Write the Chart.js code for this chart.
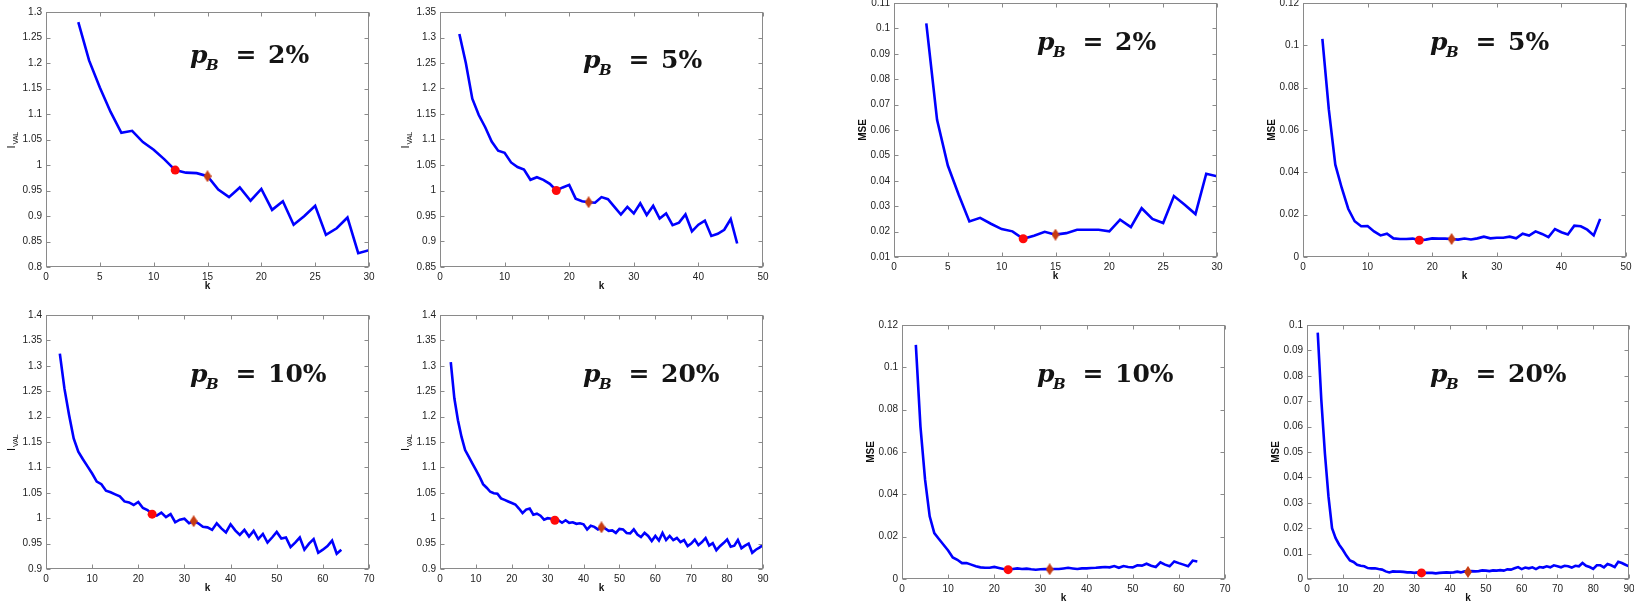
<!DOCTYPE html>
<html>
<head>
<meta charset="utf-8">
<script src="https://cdn.jsdelivr.net/npm/chart.js@4.4.0/dist/chart.umd.min.js"></script>
<style>
  html, body { margin: 0; padding: 0; background: #fff; overflow: hidden; }
  body { width: 1634px; height: 602px; position: relative; }
  canvas { position: absolute; }
</style>
</head>
<body>
<script>
// first k on every curve; each array below holds one value per k from here on
const K_START = 3;

// validation loss I_VAL per noise level p_B
const ivalP2 = [1.28, 1.205, 1.152, 1.104, 1.063, 1.067, 1.045, 1.03, 1.011, 0.99,
  0.985, 0.984, 0.978, 0.952, 0.937, 0.956, 0.93, 0.953, 0.912, 0.929,
  0.883, 0.9, 0.92, 0.863, 0.876, 0.897, 0.827, 0.833];
const ivalP5 = [1.307, 1.25, 1.18, 1.148, 1.124, 1.096, 1.078, 1.074, 1.055, 1.046,
  1.041, 1.021, 1.026, 1.021, 1.013, 1.0, 1.006, 1.011, 0.984, 0.979,
  0.977, 0.976, 0.987, 0.983, 0.968, 0.953, 0.968, 0.955, 0.975, 0.952,
  0.97, 0.945, 0.955, 0.932, 0.937, 0.953, 0.92, 0.933, 0.941, 0.911,
  0.915, 0.923, 0.944, 0.896];
const ivalP10 = [1.324, 1.255, 1.203, 1.157, 1.131, 1.116, 1.102, 1.088, 1.072, 1.067,
  1.054, 1.051, 1.047, 1.043, 1.033, 1.031, 1.026, 1.032, 1.02, 1.016,
  1.008, 1.005, 1.011, 1.002, 1.008, 0.992, 0.997, 0.999, 0.99, 0.994,
  0.99, 0.983, 0.982, 0.977, 0.99, 0.98, 0.972, 0.988, 0.976, 0.967,
  0.977, 0.964, 0.975, 0.959, 0.969, 0.952, 0.962, 0.973, 0.96, 0.962,
  0.943, 0.952, 0.962, 0.938, 0.95, 0.959, 0.932, 0.938, 0.945, 0.956,
  0.93, 0.938];
const ivalP20 = [1.307, 1.236, 1.193, 1.16, 1.134, 1.121, 1.108, 1.095, 1.082, 1.067,
  1.06, 1.052, 1.049, 1.048, 1.039, 1.036, 1.033, 1.03, 1.027, 1.019,
  1.01, 1.017, 1.019, 1.007, 1.009, 1.005, 0.997, 1.0, 0.999, 0.996,
  0.996, 0.991, 0.996, 0.991, 0.992, 0.989, 0.99, 0.988, 0.978, 0.985,
  0.983, 0.978, 0.982, 0.98, 0.975, 0.976, 0.971, 0.979, 0.978, 0.971,
  0.97, 0.978, 0.968, 0.963, 0.971, 0.965, 0.955, 0.965, 0.956, 0.971,
  0.957, 0.965, 0.957, 0.961, 0.953, 0.957, 0.945, 0.95, 0.958, 0.947,
  0.953, 0.961, 0.946, 0.951, 0.937, 0.945, 0.951, 0.958, 0.944, 0.946,
  0.957, 0.941, 0.946, 0.95, 0.932, 0.938, 0.942, 0.947];

// mean squared error per noise level p_B
const mseP2 = [0.102, 0.064, 0.046, 0.0346, 0.024, 0.0254, 0.0231, 0.021, 0.0201, 0.0172,
  0.0184, 0.0199, 0.0188, 0.0194, 0.0207, 0.0207, 0.0207, 0.0201, 0.0247, 0.0218,
  0.0292, 0.025, 0.0234, 0.034, 0.0306, 0.0269, 0.0428, 0.0418];
const mseP5 = [0.103, 0.0696, 0.0436, 0.0326, 0.0228, 0.0169, 0.0145, 0.0146, 0.0121, 0.0102,
  0.011, 0.0088, 0.0085, 0.0085, 0.0087, 0.0079, 0.0082, 0.0088, 0.0087, 0.0087,
  0.0085, 0.0082, 0.0087, 0.0083, 0.0088, 0.0096, 0.0088, 0.0091, 0.0091, 0.0096,
  0.0088, 0.011, 0.0101, 0.0121, 0.0109, 0.0094, 0.0132, 0.0117, 0.0106, 0.0148,
  0.0145, 0.0129, 0.0102, 0.018];
const mseP10 = [0.1106, 0.072, 0.0469, 0.0296, 0.0217, 0.0189, 0.0162, 0.0135, 0.0102, 0.0091,
  0.0075, 0.0075, 0.0068, 0.006, 0.0055, 0.0053, 0.0053, 0.0057, 0.0052, 0.0047,
  0.0044, 0.0047, 0.005, 0.0047, 0.0049, 0.0046, 0.0044, 0.0046, 0.0047, 0.0046,
  0.0047, 0.0047, 0.005, 0.0053, 0.005, 0.0047, 0.005, 0.005, 0.0052, 0.0053,
  0.0055, 0.0057, 0.0055, 0.0061, 0.0053, 0.0061, 0.0057, 0.0055, 0.0065, 0.0063,
  0.0072, 0.0063, 0.0057, 0.0079, 0.0068, 0.006, 0.0083, 0.0075, 0.0068, 0.006,
  0.0087, 0.0083];
const mseP20 = [0.097, 0.0705, 0.0495, 0.0325, 0.02, 0.0161, 0.0135, 0.0115, 0.0092, 0.0073,
  0.0067, 0.0056, 0.0052, 0.005, 0.0043, 0.0042, 0.0042, 0.0039, 0.0037, 0.003,
  0.0026, 0.003, 0.0029, 0.0029, 0.0028, 0.0026, 0.0026, 0.0024, 0.0026, 0.0024,
  0.0024, 0.0024, 0.0024, 0.0022, 0.0024, 0.0025, 0.0026, 0.0025, 0.0026, 0.0029,
  0.0026, 0.003, 0.0028, 0.0031, 0.003, 0.0031, 0.0034, 0.0033, 0.0031, 0.0034,
  0.0033, 0.0035, 0.0033, 0.0038, 0.0037, 0.0042, 0.0047, 0.0039, 0.0045, 0.0042,
  0.0046, 0.0039, 0.0047, 0.0045, 0.005, 0.0046, 0.0054, 0.005, 0.0046, 0.0052,
  0.005, 0.0045, 0.0052, 0.005, 0.0063, 0.0052, 0.0047, 0.004, 0.0054, 0.0054,
  0.0046, 0.0059, 0.0054, 0.0047, 0.0068, 0.0063, 0.0056, 0.005];

// per noise level: label, selected k (circle), alternative k (diamond), x axis range
const noiseLabels = ["2%", "5%", "10%", "20%"];
const circleK = [12, 18, 23, 32];
const diamondK = [15, 23, 32, 45];
const xMax = [30, 50, 70, 90];
const xStep = [5, 10, 10, 10];

// y axis [min, max, step]
const ivalAxes = [[0.8, 1.3, 0.05], [0.85, 1.35, 0.05], [0.9, 1.4, 0.05], [0.9, 1.4, 0.05]];
const mseAxes = [[0.01, 0.11, 0.01], [0, 0.12, 0.02], [0, 0.12, 0.02], [0, 0.1, 0.01]];

// plot boxes on the page [left, top, right, bottom] and p_B label offsets
const ivalBoxes = [[46, 12, 369, 267], [440, 12, 763, 267], [46, 315, 369, 569], [440, 315, 763, 569]];
const mseBoxes = [[894, 3, 1217, 257], [1303, 3, 1626, 257], [902, 325, 1225, 579], [1307, 325, 1629, 579]];
const ivalTagAt = [[144, 51], [143, 56], [144, 67], [143, 67]];
const mseTagAt = [[143, 47], [127, 47], [135, 57], [123, 57]];

const YW = 50, XH = 34, PT = 10, PR = 14;

Chart.defaults.font.family = "'Liberation Sans', Arial, sans-serif";
Chart.defaults.font.size = 10;
Chart.defaults.color = "#222";

// diamond marker, a bit taller than wide
const diamond = document.createElement("canvas");
diamond.width = 8;
diamond.height = 12;
(function() {
  const g = diamond.getContext("2d");
  g.fillStyle = "#c83c12";
  g.beginPath();
  g.moveTo(4, 0);
  g.lineTo(8, 6);
  g.lineTo(4, 12);
  g.lineTo(0, 6);
  g.closePath();
  g.fill();
})();

// gray box with short inward ticks on all four sides
const framePlugin = {
  id: "frame",
  afterDraw(chart) {
    const { ctx, chartArea: a, scales } = chart;
    const L = Math.round(a.left) + 0.5, R = Math.round(a.right) - 0.5;
    const T = Math.round(a.top) + 0.5, B = Math.round(a.bottom) - 0.5;
    ctx.save();
    ctx.strokeStyle = "#8a8a8a";
    ctx.lineWidth = 1;
    ctx.strokeRect(L, T, R - L, B - T);
    ctx.beginPath();
    scales.x.ticks.forEach(t => {
      const x = Math.round(scales.x.getPixelForValue(t.value)) + 0.5;
      ctx.moveTo(x, B); ctx.lineTo(x, B - 4);
      ctx.moveTo(x, T); ctx.lineTo(x, T + 4);
    });
    scales.y.ticks.forEach(t => {
      const y = Math.round(scales.y.getPixelForValue(t.value)) + 0.5;
      ctx.moveTo(L, y); ctx.lineTo(L + 4, y);
      ctx.moveTo(R, y); ctx.lineTo(R - 4, y);
    });
    ctx.stroke();
    ctx.restore();
  }
};

// axis names and the p_B tag
const labelPlugin = {
  id: "labels",
  afterDraw(chart, args, opts) {
    const { ctx, chartArea: a } = chart;
    ctx.save();
    ctx.fillStyle = "#111";
    ctx.textAlign = "center";
    ctx.textBaseline = "middle";
    ctx.font = "bold 10px 'Liberation Sans', Arial, sans-serif";
    ctx.fillText("k", (a.left + a.right) / 2, a.bottom + 19);

    ctx.translate(a.left - opts.yOffset, (a.top + a.bottom) / 2);
    ctx.rotate(-Math.PI / 2);
    if (opts.yName === "MSE") {
      ctx.fillText("MSE", 0, 0);
    } else {
      ctx.textAlign = "left";
      ctx.font = "11px 'Liberation Sans', Arial, sans-serif";
      ctx.fillText("I", -9, 0);
      ctx.font = "7px 'Liberation Sans', Arial, sans-serif";
      ctx.fillText("VAL", -5, 4);
    }
    ctx.restore();

    const x0 = a.left + opts.tag[0], y0 = a.top + opts.tag[1];
    ctx.save();
    ctx.fillStyle = "#141414";
    ctx.textBaseline = "alphabetic";
    ctx.font = "italic bold 25px 'DejaVu Serif', serif";
    ctx.fillText("p", x0, y0);
    ctx.font = "italic bold 15px 'DejaVu Serif', serif";
    ctx.fillText("B", x0 + 16, y0 + 7);
    ctx.font = "bold 25px 'DejaVu Serif', serif";
    ctx.textAlign = "center";
    ctx.fillText("=", x0 + 56, y0);
    ctx.textAlign = "left";
    ctx.fillText(opts.value, x0 + 78, y0);
    ctx.restore();
  }
};

function fmt(v) {
  return String(Number(v.toFixed(4)));
}

function drawPanel(values, box, axis, i, yName, tag, yOffset) {
  const [L, T, R, B] = box;
  const w = R - L + YW + PR, h = B - T + PT + XH;
  const canvas = document.createElement("canvas");
  canvas.width = w;
  canvas.height = h;
  canvas.style.left = (L - YW) + "px";
  canvas.style.top = (T - PT) + "px";
  canvas.style.width = w + "px";
  canvas.style.height = h + "px";
  document.body.appendChild(canvas);

  const curve = values.map((v, j) => ({ x: K_START + j, y: v }));
  const pick = k => [{ x: k, y: values[k - K_START] }];

  new Chart(canvas, {
    type: "line",
    data: {
      datasets: [
        {
          data: curve,
          borderColor: "#0000ff",
          borderWidth: 2.6,
          pointRadius: 0,
          tension: 0,
          order: 2
        },
        {
          data: pick(circleK[i]),
          showLine: false,
          pointStyle: "circle",
          pointRadius: 4.5,
          pointBackgroundColor: "#ff0a0a",
          pointBorderWidth: 0,
          order: 1
        },
        {
          data: pick(diamondK[i]),
          showLine: false,
          pointStyle: diamond,
          pointRadius: 5,
          order: 0
        }
      ]
    },
    options: {
      responsive: false,
      animation: false,
      events: [],
      layout: { padding: { top: PT, right: PR, left: 0, bottom: 0 } },
      plugins: {
        legend: { display: false },
        tooltip: { enabled: false },
        labels: { yName, tag, value: noiseLabels[i], yOffset }
      },
      scales: {
        x: {
          type: "linear",
          min: 0,
          max: xMax[i],
          grid: { display: false, drawTicks: false, tickLength: 0 },
          border: { display: false },
          ticks: { stepSize: xStep[i], padding: 4, maxRotation: 0, autoSkip: false, callback: fmt },
          afterFit: s => { s.height = XH; }
        },
        y: {
          min: axis[0],
          max: axis[1],
          grid: { display: false, drawTicks: false, tickLength: 0 },
          border: { display: false },
          ticks: { stepSize: axis[2], padding: 4, autoSkip: false, maxTicksLimit: 20, callback: fmt },
          afterFit: s => { s.width = YW; }
        }
      }
    },
    plugins: [framePlugin, labelPlugin]
  });
}

const ivalSeries = [ivalP2, ivalP5, ivalP10, ivalP20];
const mseSeries = [mseP2, mseP5, mseP10, mseP20];

ivalSeries.forEach((s, i) => drawPanel(s, ivalBoxes[i], ivalAxes[i], i, "IVAL", ivalTagAt[i], 34));
mseSeries.forEach((s, i) => drawPanel(s, mseBoxes[i], mseAxes[i], i, "MSE", mseTagAt[i], 31));
</script>
</body>
</html>
